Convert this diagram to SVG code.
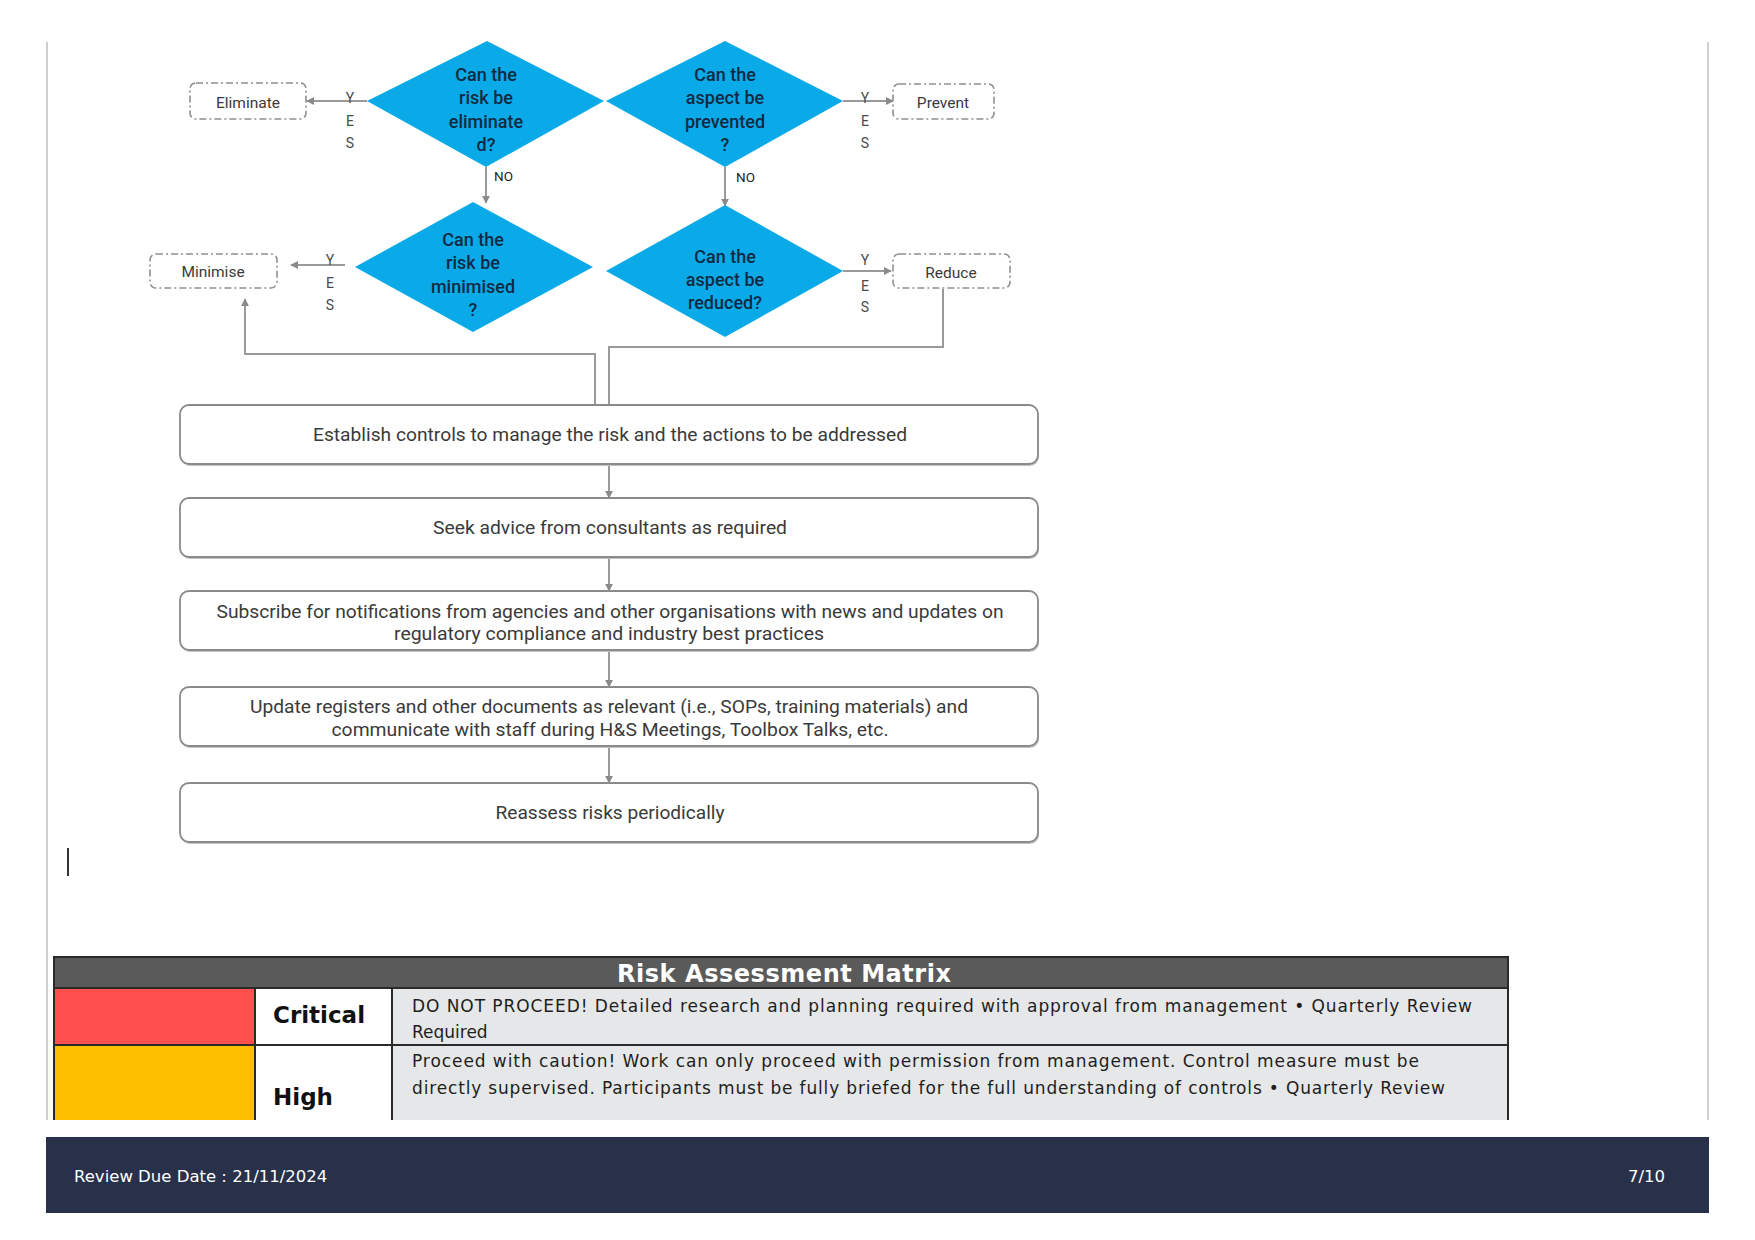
<svg xmlns="http://www.w3.org/2000/svg" width="1755" height="1240" viewBox="0 0 1755 1240">
<defs>
<style>
.dia{fill:#0AAAE8;}
.dt{font-family:Roboto,"Liberation Sans",sans-serif;font-size:18px;font-weight:500;fill:#102a44;text-anchor:middle;}
.db{fill:#fff;stroke:#8f8f8f;stroke-width:1.6;stroke-dasharray:7 3 2 3;}
.dbt{font-family:Roboto,"Liberation Sans",sans-serif;font-size:15.5px;fill:#3a3a3a;text-anchor:middle;}
.yes{font-family:Roboto,"Liberation Sans",sans-serif;font-size:14px;fill:#4a4a4a;text-anchor:middle;}
.no{font-family:Roboto,"Liberation Sans",sans-serif;font-size:13.5px;fill:#222;}
.pb{fill:#fff;stroke:#8a8a8a;stroke-width:1.8;}
.pbs{fill:#c4c4c4;}
.pt{font-family:Roboto,"Liberation Sans",sans-serif;font-size:19px;fill:#3a3a3a;text-anchor:middle;}
.cn{fill:none;stroke:#9a9a9a;stroke-width:2;}
.th{font-family:"DejaVu Sans",sans-serif;font-weight:bold;font-size:24px;fill:#fff;}
.tl{font-family:"DejaVu Sans",sans-serif;font-weight:bold;font-size:23px;fill:#111;}
.td{font-family:"DejaVu Sans",sans-serif;font-size:17px;fill:#1e1e1e;}
.ft{font-family:"DejaVu Sans",sans-serif;font-size:16.5px;fill:#fff;}
</style>
<marker id="ah" viewBox="0 0 10 10" refX="9" refY="5" markerWidth="4" markerHeight="4" orient="auto" markerUnits="strokeWidth">
<path d="M0,0 L10,5 L0,10 z" fill="#8a8a8a"/>
</marker>
</defs>
<rect width="1755" height="1240" fill="#fff"/>
<line x1="47" y1="42" x2="47" y2="1120" stroke="#cfcfcf" stroke-width="2"/>
<line x1="1708" y1="42" x2="1708" y2="1120" stroke="#cfcfcf" stroke-width="2"/>

<g id="connectors">
<line class="cn" x1="367" y1="101" x2="307" y2="101" marker-end="url(#ah)"/>
<line class="cn" x1="843" y1="101" x2="893" y2="101" marker-end="url(#ah)"/>
<line class="cn" x1="486" y1="167" x2="486" y2="203" marker-end="url(#ah)"/>
<line class="cn" x1="725" y1="167" x2="725" y2="206" marker-end="url(#ah)"/>
<line class="cn" x1="345" y1="265" x2="291" y2="265" marker-end="url(#ah)"/>
<line class="cn" x1="843" y1="271" x2="891" y2="271" marker-end="url(#ah)"/>
<polyline class="cn" points="595,412 595,354 245,354 245,299" marker-end="url(#ah)"/>
<polyline class="cn" points="943,289 943,347 609,347 609,405"/>
<line class="cn" x1="609" y1="464" x2="609" y2="498" marker-end="url(#ah)"/>
<line class="cn" x1="609" y1="557" x2="609" y2="591" marker-end="url(#ah)"/>
<line class="cn" x1="609" y1="650" x2="609" y2="687" marker-end="url(#ah)"/>
<line class="cn" x1="609" y1="746" x2="609" y2="783" marker-end="url(#ah)"/>
</g>

<g id="d-eliminate">
<polygon class="dia" points="487,41 604,101 486,167 367,101"/>
<text class="dt" x="486" y="81">Can the</text>
<text class="dt" x="486" y="104">risk be</text>
<text class="dt" x="486" y="128">eliminate</text>
<text class="dt" x="486" y="151">d?</text>
<text class="yes" x="350" y="103">Y</text>
<text class="yes" x="350" y="126">E</text>
<text class="yes" x="350" y="148">S</text>
<text class="no" x="494" y="181">NO</text>
</g>
<g id="d-prevent">
<polygon class="dia" points="725,41 843,101 725,167 606,101"/>
<text class="dt" x="725" y="81">Can the</text>
<text class="dt" x="725" y="104">aspect be</text>
<text class="dt" x="725" y="128">prevented</text>
<text class="dt" x="725" y="151">?</text>
<text class="yes" x="865" y="103">Y</text>
<text class="yes" x="865" y="126">E</text>
<text class="yes" x="865" y="148">S</text>
<text class="no" x="736" y="182">NO</text>
</g>
<g id="d-minimise">
<polygon class="dia" points="473,202 593,267 473,332 355,267"/>
<text class="dt" x="473" y="246">Can the</text>
<text class="dt" x="473" y="269">risk be</text>
<text class="dt" x="473" y="293">minimised</text>
<text class="dt" x="473" y="316">?</text>
<text class="yes" x="330" y="265">Y</text>
<text class="yes" x="330" y="288">E</text>
<text class="yes" x="330" y="310">S</text>
</g>
<g id="d-reduce">
<polygon class="dia" points="725,205 843,271 725,337 606,271"/>
<text class="dt" x="725" y="263">Can the</text>
<text class="dt" x="725" y="286">aspect be</text>
<text class="dt" x="725" y="309">reduced?</text>
<text class="yes" x="865" y="265">Y</text>
<text class="yes" x="865" y="291">E</text>
<text class="yes" x="865" y="312">S</text>
</g>

<g id="n-eliminate"><rect class="db" x="190" y="83" width="116" height="36" rx="6"/><text class="dbt" x="248" y="108">Eliminate</text></g>
<g id="n-prevent"><rect class="db" x="893" y="84" width="101" height="35" rx="6"/><text class="dbt" x="943" y="108">Prevent</text></g>
<g id="n-minimise"><rect class="db" x="150" y="254" width="127" height="34" rx="6"/><text class="dbt" x="213" y="277">Minimise</text></g>
<g id="n-reduce"><rect class="db" x="893" y="254" width="117" height="34" rx="6"/><text class="dbt" x="951" y="278">Reduce</text></g>

<g id="p1"><rect class="pbs" x="181" y="407" width="858" height="59" rx="9"/><rect class="pb" x="180" y="405" width="858" height="59" rx="9"/><text class="pt" x="610" y="441" textLength="594" lengthAdjust="spacingAndGlyphs">Establish controls to manage the risk and the actions to be addressed</text></g>
<g id="p2"><rect class="pbs" x="181" y="500" width="858" height="59" rx="9"/><rect class="pb" x="180" y="498" width="858" height="59" rx="9"/><text class="pt" x="610" y="534" textLength="354" lengthAdjust="spacingAndGlyphs">Seek advice from consultants as required</text></g>
<g id="p3"><rect class="pbs" x="181" y="593" width="858" height="59" rx="9"/><rect class="pb" x="180" y="591" width="858" height="59" rx="9"/><text class="pt" x="610" y="618" textLength="787" lengthAdjust="spacingAndGlyphs">Subscribe for notifications from agencies and other organisations with news and updates on</text><text class="pt" x="609" y="640" textLength="430" lengthAdjust="spacingAndGlyphs">regulatory compliance and industry best practices</text></g>
<g id="p4"><rect class="pbs" x="181" y="689" width="858" height="59" rx="9"/><rect class="pb" x="180" y="687" width="858" height="59" rx="9"/><text class="pt" x="609" y="713" textLength="718" lengthAdjust="spacingAndGlyphs">Update registers and other documents as relevant (i.e., SOPs, training materials) and</text><text class="pt" x="610" y="736" textLength="557" lengthAdjust="spacingAndGlyphs">communicate with staff during H&amp;S Meetings, Toolbox Talks, etc.</text></g>
<g id="p5"><rect class="pbs" x="181" y="785" width="858" height="59" rx="9"/><rect class="pb" x="180" y="783" width="858" height="59" rx="9"/><text class="pt" x="610" y="819" textLength="229" lengthAdjust="spacingAndGlyphs">Reassess risks periodically</text></g>

<line x1="68" y1="848" x2="68" y2="876" stroke="#333" stroke-width="2"/>

<g id="matrix">
<rect x="54" y="957" width="1454" height="31" fill="#5a5a5a"/>
<rect x="54" y="988" width="201" height="57" fill="#FF4F4F"/>
<rect x="255" y="988" width="137" height="57" fill="#fff"/>
<rect x="392" y="988" width="1116" height="57" fill="#E6E7E8"/>
<rect x="54" y="1045" width="201" height="75" fill="#FFBE00"/>
<rect x="255" y="1045" width="137" height="75" fill="#fff"/>
<rect x="392" y="1045" width="1116" height="75" fill="#E6E7E8"/>
<g stroke="#2a2a2a" stroke-width="2" fill="none">
<polyline points="54,1120 54,957 1508,957 1508,1120"/>
<line x1="54" y1="988" x2="1508" y2="988"/>
<line x1="54" y1="1045" x2="1508" y2="1045"/>
<line x1="255" y1="988" x2="255" y2="1120"/>
<line x1="392" y1="988" x2="392" y2="1120"/>
</g>
<text class="th" x="617" y="982" textLength="334">Risk Assessment Matrix</text>
<text class="tl" x="273" y="1023">Critical</text>
<text class="tl" x="273" y="1105">High</text>
<text class="td" x="412" y="1012" textLength="1060">DO NOT PROCEED! Detailed research and planning required with approval from management • Quarterly Review</text>
<text class="td" x="412" y="1038">Required</text>
<text class="td" x="412" y="1067" textLength="1007">Proceed with caution! Work can only proceed with permission from management. Control measure must be</text>
<text class="td" x="412" y="1094" textLength="1033">directly supervised. Participants must be fully briefed for the full understanding of controls • Quarterly Review</text>
</g>

<g id="footer">
<rect x="46" y="1137" width="1663" height="76" fill="#29304A"/>
<text class="ft" x="74" y="1182">Review Due Date : 21/11/2024</text>
<text class="ft" x="1665" y="1182" text-anchor="end">7/10</text>
</g>
</svg>
